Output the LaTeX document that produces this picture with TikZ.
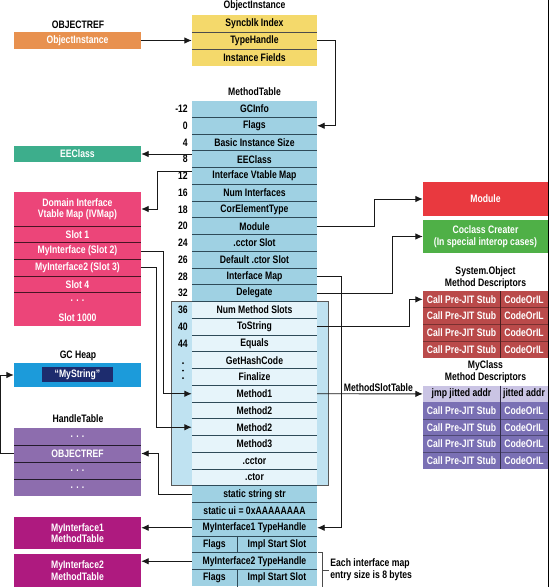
\documentclass[tikz,border=0pt]{standalone}
\usepackage{fontspec}
\setmainfont{Liberation Sans}[FakeStretch=0.8]
\usetikzlibrary{arrows.meta,positioning}

\definecolor{tblblue}{HTML}{9FD1E3}
\definecolor{inblue}{HTML}{E6F4FA}
\definecolor{inbox}{HTML}{BFE2F1}
\definecolor{tblsep}{HTML}{2E4A58}
\definecolor{objyellow}{HTML}{F4D96B}
\definecolor{objorange}{HTML}{E8914F}
\definecolor{eeteal}{HTML}{3DAE8C}
\definecolor{ivpink}{HTML}{EC4579}
\definecolor{gcblue}{HTML}{1C9BDA}
\definecolor{gcnavy}{HTML}{1D2C6E}
\definecolor{htpurple}{HTML}{8D6DAE}
\definecolor{mimagenta}{HTML}{AE1A7F}
\definecolor{modred}{HTML}{E9393F}
\definecolor{cogreen}{HTML}{4FB047}
\definecolor{sored}{HTML}{BA4A4A}
\definecolor{mcpurple}{HTML}{7A70B4}
\definecolor{mclav}{HTML}{CAC4E4}

\tikzset{
  lbl/.style={font=\fontsize{10.8}{11.5}\selectfont\bfseries},
  cell/.style={lbl, minimum height=16.75pt, inner sep=0pt},
  mtrow/.style={cell, fill=tblblue, minimum width=125pt},
  inrow/.style={cell, fill=inblue, minimum width=125pt},
  box/.style={lbl, minimum width=127pt, inner sep=0pt, text=white, align=center},
  title/.style={lbl, inner sep=0pt, align=center},
  offset/.style={lbl, inner sep=0pt, anchor=east},
  sep/.style={draw=tblsep, line width=0.8pt},
  conn/.style={draw=black!90, line width=0.9pt},
  arr/.style={conn, -{Latex[length=7.5pt,width=6.5pt]}},
}

\begin{document}
\begin{tikzpicture}[x=1pt,y=-1pt]
\useasboundingbox (0,0) rectangle (550,587);

% object reference and instance
\node[title] (objreftitle) at (78,25) {OBJECTREF};
\node[box, fill=objorange, minimum height=17pt] (objref) at (77.5,40.5) {ObjectInstance};
\node[title] (oititle) at (254.5,6) {ObjectInstance};
\foreach \txt [count=\i] in {Syncblk Index,TypeHandle,Instance Fields}
  \node[cell, fill=objyellow, minimum width=125pt, minimum height=17pt] (oi\i) at (254.5,{15+17*(\i-0.5)}) {\txt};
\draw[draw=black!70, line width=0.8pt] (oi1.south west) -- (oi1.south east);
\draw[draw=black!70, line width=0.8pt] (oi2.south west) -- (oi2.south east);

% method table
\node[title] (mttitle) at (254.5,92) {MethodTable};
\foreach \txt [count=\i] in {GCInfo,Flags,Basic Instance Size,EEClass,Interface Vtable Map,Num Interfaces,CorElementType,Module,.cctor Slot,Default .ctor Slot,Interface Map,Delegate}
  \node[mtrow] (mt\i) at (254.5,{100.6+16.75*(\i-0.5)}) {\txt};
\filldraw[fill=inbox, draw=black!65, line width=0.8pt] (171,301.6) rectangle (328,485.85);
\foreach \txt [count=\i from 13] in {Num Method Slots,ToString,Equals,GetHashCode,Finalize,Method1,Method2,Method2,Method3,.cctor,.ctor}
  \node[inrow] (mt\i) at (254.5,{100.6+16.75*(\i-0.5)}) {\txt};
\foreach \txt/\i in {static string str/24,{static ui = 0xAAAAAAAA}/25,MyInterface1 TypeHandle/26,MyInterface2 TypeHandle/28}
  \node[mtrow] (mt\i) at (254.5,{100.6+16.75*(\i-0.5)}) {\txt};
\foreach \i/\n in {27/1,29/2} {
  \node[cell, fill=tblblue, minimum width=45pt] (fl\n) at (214.5,{100.6+16.75*(\i-0.5)}) {Flags};
  \node[cell, fill=tblblue, minimum width=80pt] (is\n) at (277,{100.6+16.75*(\i-0.5)}) {Impl Start Slot};
  \draw[sep] (fl\n.north east) -- (fl\n.south east);
}
\foreach \k in {1,...,28}
  \draw[sep] (192,{100.6+16.75*\k}) -- (317,{100.6+16.75*\k});
\foreach \off [count=\i] in {-12,0,4,8,12,16,18,20,24,26,28,32,36,40,44}
  \node[offset] (off\i) at (188,{100.6+16.75*(\i-0.5)}) {\off};
\foreach \d in {363,370.5,378}
  \fill (183,\d) circle (1pt);

% left column
\node[box, fill=eeteal, minimum height=16pt] (eeclass) at (77.5,154) {EEClass};
\node[box, fill=ivpink, minimum height=34pt] (ivhead) at (77.5,209) {Domain Interface\\Vtable Map (IVMap)};
\foreach \txt [count=\i] in {Slot 1,MyInterface (Slot 2),MyInterface2 (Slot 3),Slot 4,. . .,Slot 1000}
  \node[box, fill=ivpink, minimum height=16.67pt] (slot\i) at (77.5,{226+16.67*(\i-0.5)}) {\txt};
\foreach \k in {0,...,4}
  \draw[draw=black!70!ivpink, line width=0.8pt] (14,{226+16.67*\k}) -- (141,{226+16.67*\k});

\node[title] (gctitle) at (78,356) {GC Heap};
\node[box, fill=gcblue, minimum height=24pt] (gcheap) at (77.5,375) {};
\node[lbl, fill=gcnavy, text=white, minimum width=71pt, minimum height=15pt, inner sep=0pt] (mystring) at (77.5,374.5) {“MyString”};

\node[title] (httitle) at (78,419) {HandleTable};
\foreach \txt [count=\i] in {. . .,OBJECTREF,. . .,. . .}
  \node[box, fill=htpurple, minimum height=17pt] (ht\i) at (77.5,{428+17*(\i-0.5)}) {\txt};
\foreach \k in {1,2,3}
  \draw[draw=black!75!htpurple, line width=0.8pt] (14,{428+17*\k}) -- (141,{428+17*\k});

\node[box, fill=mimagenta, minimum height=32pt] (mi1) at (77.5,533) {MyInterface1\\MethodTable};
\node[box, fill=mimagenta, minimum height=33pt] (mi2) at (77.5,570.5) {MyInterface2\\MethodTable};

% right column
\node[box, fill=modred, minimum width=125pt, minimum height=34pt] (module) at (485.5,199) {Module};
\node[box, fill=cogreen, minimum width=125pt, minimum height=33pt] (coclass) at (485.5,236.5) {Coclass Creater\\(In special interop cases)};

\node[title] (sotitle) at (485.5,277.5) {System.Object\\Method Descriptors};
\foreach \i in {1,...,4} {
  \node[cell, fill=sored, text=white, minimum width=77pt] (so\i) at (461.5,{291+16.75*(\i-0.5)}) {Call Pre-JIT Stub};
  \node[cell, fill=sored, text=white, minimum width=48pt] (sc\i) at (524,{291+16.75*(\i-0.5)}) {CodeOrIL};
}
\foreach \k in {1,2,3}
  \draw[draw=black!35!sored, line width=0.6pt] (423,{291+16.75*\k}) -- (548,{291+16.75*\k});
\draw[draw=black!60!sored, line width=0.8pt] (500,291) -- (500,358);

\node[title] (mctitle) at (485.5,371.5) {MyClass\\Method Descriptors};
\node[cell, fill=mclav, minimum width=77pt] (mc1) at (461.5,393.9) {jmp jitted addr};
\node[cell, fill=mclav, minimum width=48pt] (md1) at (524,393.9) {jitted addr};
\foreach \i in {2,...,5} {
  \node[cell, fill=mcpurple, text=white, minimum width=77pt] (mc\i) at (461.5,{385.5+16.75*(\i-0.5)}) {Call Pre-JIT Stub};
  \node[cell, fill=mcpurple, text=white, minimum width=48pt] (md\i) at (524,{385.5+16.75*(\i-0.5)}) {CodeOrIL};
}
\foreach \k in {2,3,4}
  \draw[draw=black!35!mcpurple, line width=0.6pt] (423,{385.5+16.75*\k}) -- (548,{385.5+16.75*\k});
\draw[draw=black!60!mcpurple, line width=0.8pt] (500,385.5) -- (500,469.25);

% connectors
\draw[arr] (objref.east) -- (oi2.west);
\draw[arr] (oi2.east) -- ++(18,0) |- (mt2.east);
\draw[arr] (mt4.west |- eeclass.east) -- (eeclass.east);
\draw[arr] ([yshift=5pt]mt5.west) -- ++(-34,0) |- (ivhead.east);
\draw[arr] (slot2.east) -- ++(22,0) |- (mt18.west);
\draw[arr] (slot3.east) -- ++(15,0) |- (mt20.west);
\draw[arr] (ht2.west) -- ++(-13,0) |- (gcheap.west);
\draw[arr] (mt24.west) -- ++(-33,0) |- (ht2.east);
\draw[arr] (mt26.west) -- (mt26.west -| mi1.east);
\draw[arr] (mt28.west) -- (mt28.west -| mi2.east);
\draw[arr] (mt8.east) -- ++(57,0) |- (module.west);
\draw[arr] (mt12.east) -- ++(75,0) |- (coclass.west);
\draw[arr] (mt11.east) -- ++(24,0) |- (mt26.east);
\draw[arr] (mt14.east) -- ++(92,0) |- (so1.west);
\draw[arr] (mt18.east) -- (mc1.west) node[lbl, pos=0.58, above, inner sep=1.5pt] (mstlabel) {MethodSlotTable};

% interface map entry brace
\draw[draw=black!70, line width=0.6pt] ([xshift=1pt]mt28.north east) -- ++(4,0) coordinate (bracetop) -- (bracetop |- fl2.south);
\draw[draw=black!70, line width=0.6pt] (bracetop |- mt28.south) -- ++(7,0) coordinate (bracetip);
\node[lbl, anchor=west, align=left, inner sep=0pt] (bracenote) at ([xshift=1pt]bracetip) {Each interface map\\entry size is 8 bytes};

% right edge
\draw[line width=1.2pt] (548.6,0) -- (548.6,587);
\end{tikzpicture}
\end{document}
